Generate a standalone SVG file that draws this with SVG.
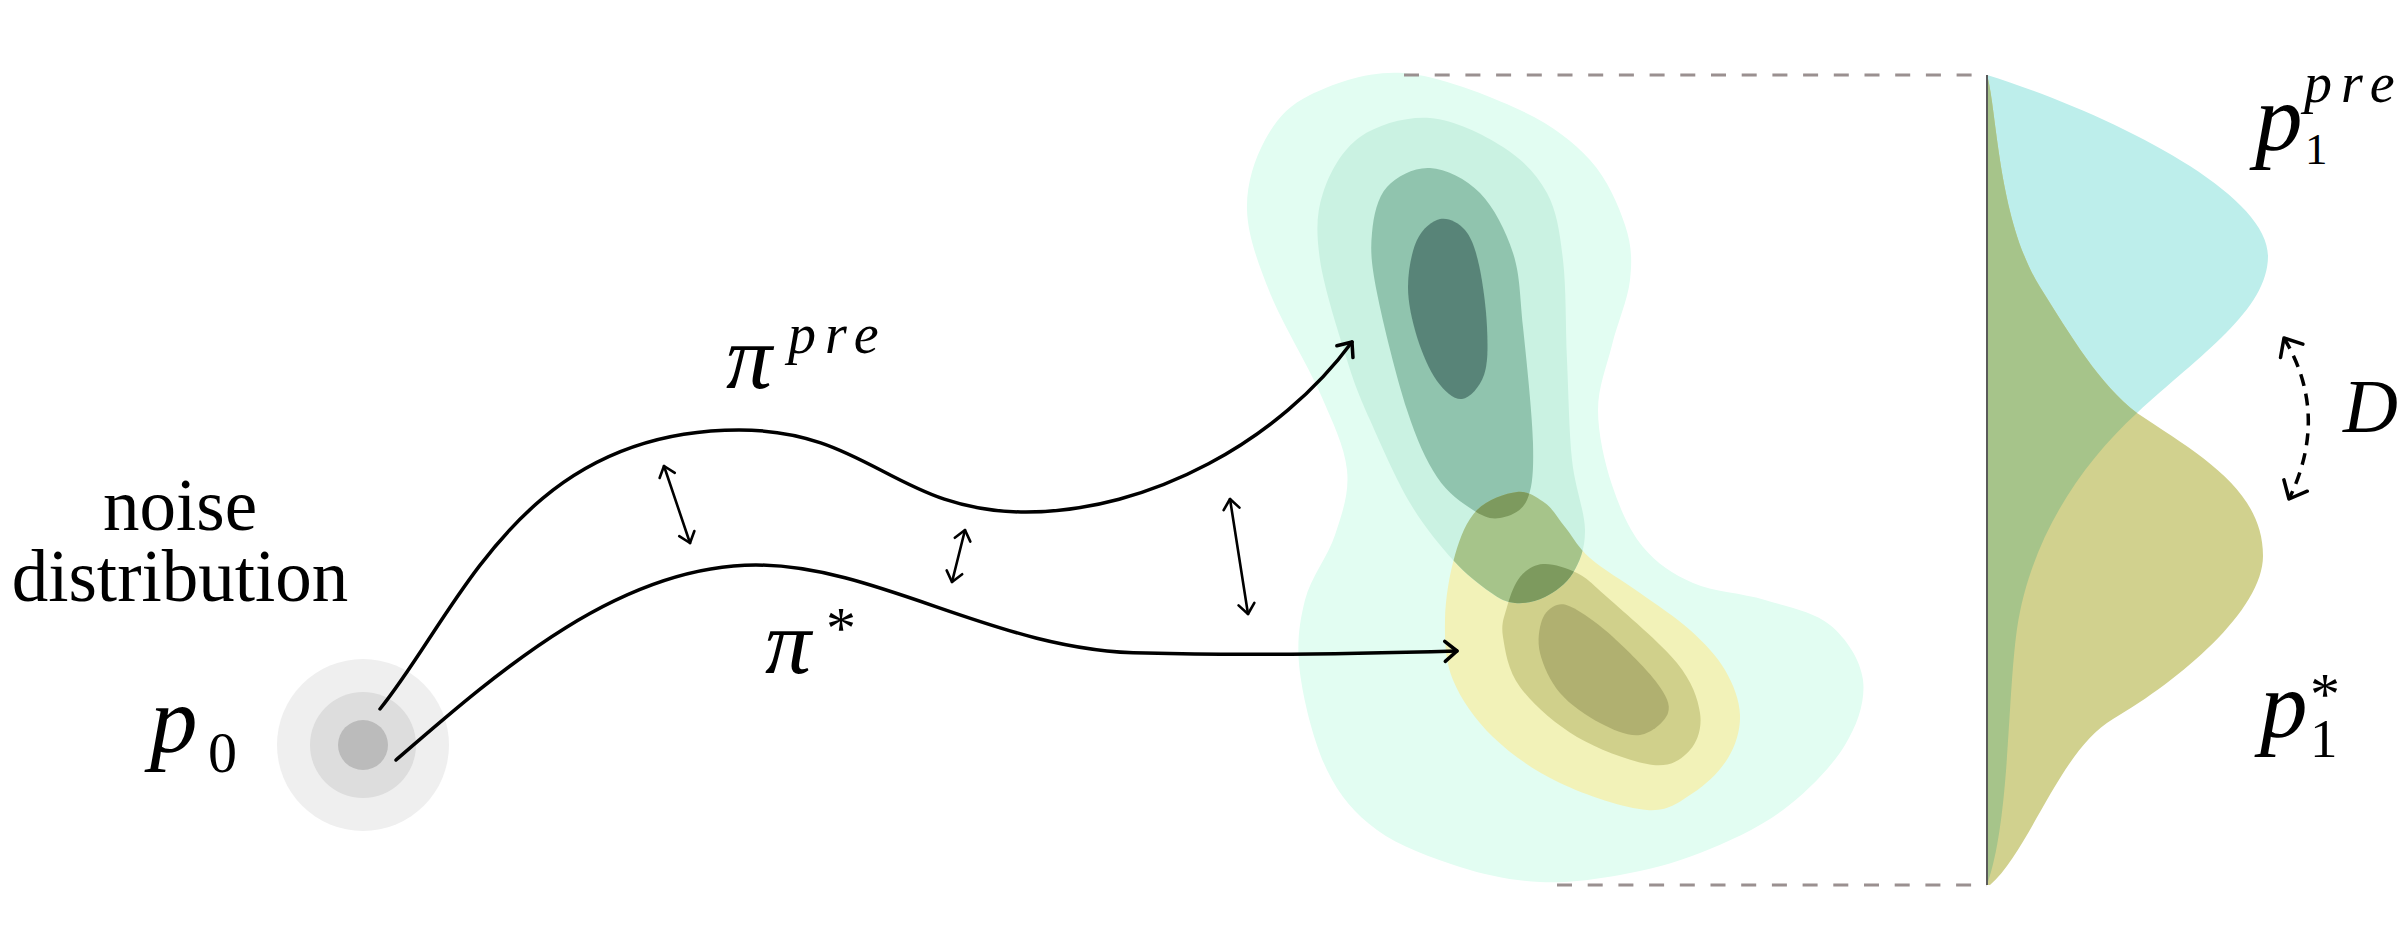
<svg xmlns="http://www.w3.org/2000/svg" width="2400" height="935" viewBox="0 0 2400 935">
<style>
text{font-family:"Liberation Serif","Times New Roman",serif;fill:#000}
.it{font-style:italic}
.curve{fill:none;stroke:#000;stroke-width:3.5;stroke-linecap:round}
.dbl{fill:none;stroke:#000;stroke-width:2.6;stroke-linecap:round}
.guide{fill:none;stroke:#9a9090;stroke-width:3;stroke-dasharray:15 15.7}
.ahp{fill:none;stroke:#000;stroke-linecap:round;stroke-linejoin:round;stroke-dasharray:none}
</style>
<defs>
<marker id="ah" markerUnits="userSpaceOnUse" orient="auto" overflow="visible" markerWidth="30" markerHeight="30">
<path class="ahp" stroke-width="3.5" d="M-12,-10 L0,0 L-12,10"/>
</marker>
<marker id="dh" markerUnits="userSpaceOnUse" orient="auto-start-reverse" overflow="visible" markerWidth="30" markerHeight="30">
<path class="ahp" stroke-width="2.6" d="M-10,-8 L0,0 L-10,8"/>
</marker>
<marker id="Dh" markerUnits="userSpaceOnUse" orient="auto-start-reverse" overflow="visible" markerWidth="40" markerHeight="40">
<path class="ahp" stroke-width="3.5" d="M-15,-13 L0,0 L-15,13"/>
</marker>
<path id="T2" d="M1430,118 C1453.8,119.7 1483.5,134.5 1503,147 C1522.5,159.5 1537,174.2 1547,193 C1557,211.8 1559.7,232.2 1563,260 C1566.3,287.8 1565.5,326.7 1567,360 C1568.5,393.3 1569,431.7 1572,460 C1575,488.3 1584.8,511.2 1585,530 C1585.2,548.8 1579.7,561.8 1573,573 C1566.3,584.2 1554.7,592 1545,597 C1535.3,602 1524.2,603.8 1515,603 C1505.8,602.2 1500.3,599.2 1490,592 C1479.7,584.8 1466.3,574.8 1453,560 C1439.7,545.2 1423.8,526.3 1410,503 C1396.2,479.7 1380.5,443.8 1370,420 C1359.5,396.2 1355.3,386.7 1347,360 C1338.7,333.3 1324,287.8 1320,260 C1316,232.2 1316.3,213.5 1323,193 C1329.7,172.5 1342.2,149.5 1360,137 C1377.8,124.5 1406.2,116.3 1430,118 Z"/>
<path id="T3" d="M1430,168 C1445.5,169 1466.2,178.8 1480,193 C1493.8,207.2 1505.8,230.7 1513,253 C1520.2,275.3 1519.7,295.3 1523,327 C1526.3,358.7 1532.3,414.2 1533,443 C1533.7,471.8 1532.5,487.5 1527,500 C1521.5,512.5 1509,516.3 1500,518 C1491,519.7 1483.5,516.8 1473,510 C1462.5,503.2 1448,493.7 1437,477 C1426,460.3 1417,440.7 1407,410 C1397,379.3 1382.8,322.5 1377,293 C1371.2,263.5 1370.3,250.7 1372,233 C1373.7,215.3 1377.3,197.8 1387,187 C1396.7,176.2 1414.5,167 1430,168 Z"/>
<path id="Y1" d="M1517,492 C1528.3,490.8 1537,497.2 1545,503 C1553,508.8 1557.5,517.8 1565,527 C1572.5,536.2 1577.5,547 1590,558 C1602.5,569 1623.3,581 1640,593 C1656.7,605 1675.8,617.2 1690,630 C1704.2,642.8 1716.7,655.8 1725,670 C1733.3,684.2 1739.5,700.3 1740,715 C1740.5,729.7 1735.8,745 1728,758 C1720.2,771 1706.5,784.3 1693,793 C1679.5,801.7 1669.2,811.7 1647,810 C1624.8,808.3 1585.7,795.2 1560,783 C1534.3,770.8 1510.8,754.2 1493,737 C1475.2,719.8 1461,699.5 1453,680 C1445,660.5 1444.7,640.8 1445,620 C1445.3,599.2 1449.7,573.3 1455,555 C1460.3,536.7 1466.7,520.5 1477,510 C1487.3,499.5 1505.7,493.2 1517,492 Z"/>
<path id="Y2" d="M1543,564 C1552.5,563.3 1566.3,567.5 1577,573 C1587.7,578.5 1590.3,582 1607,597 C1623.7,612 1661.5,643.7 1677,663 C1692.5,682.3 1697.8,698.5 1700,713 C1702.2,727.5 1697.8,741.3 1690,750 C1682.2,758.7 1671.8,767.2 1653,765 C1634.2,762.8 1599.2,750 1577,737 C1554.8,724 1532.3,703.7 1520,687 C1507.7,670.3 1505.2,650.3 1503,637 C1500.8,623.7 1504.2,617 1507,607 C1509.8,597 1514,584.2 1520,577 C1526,569.8 1533.5,564.7 1543,564 Z"/>
<path id="MC" d="M1987,75 C2100,110 2268,190 2268,256 C2268,310 2200,355 2137,413 C2080,465 2030,540 2017,629 C2007,700 2010,820 1987,885 Z"/>
<path id="MY" d="M1987,75 C1997,110 1998,220 2040,287 C2070,335 2100,385 2137,413 C2200,455 2263,490 2263,556 C2263,610 2180,680 2113,719 C2060,750 2030,850 1990,885 L1987,885 Z"/>
<clipPath id="cT2"><use href="#T2"/></clipPath>
<clipPath id="cT3"><use href="#T3"/></clipPath>
<clipPath id="cMC"><use href="#MC"/></clipPath>
</defs>

<g id="noise-source">
<circle cx="363" cy="745" r="86" fill="#efefef"/>
<circle cx="363" cy="745" r="53" fill="#dddddd"/>
<circle cx="363" cy="745" r="25" fill="#bbbbbb"/>
<text x="180" y="530" font-size="73" text-anchor="middle">noise</text>
<text x="180" y="601" font-size="73" text-anchor="middle">distribution</text>
<text y="752"><tspan class="it" x="150" font-size="95">p</tspan><tspan x="208" y="772" font-size="58">0</tspan></text>
</g>

<g id="density-2d">
<path fill="#e2fdf2" d="M1403,73 C1438,75.5 1488.8,95.5 1520,110 C1551.2,124.5 1572.5,140.8 1590,160 C1607.5,179.2 1618.3,205 1625,225 C1631.7,245 1632.2,260 1630,280 C1627.8,300 1617.3,323.3 1612,345 C1606.7,366.7 1598,386.7 1598,410 C1598,433.3 1604.5,462.2 1612,485 C1619.5,507.8 1629.5,530.7 1643,547 C1656.5,563.3 1672.7,574.2 1693,583 C1713.3,591.8 1742.2,593 1765,600 C1787.8,607 1813.7,611.7 1830,625 C1846.3,638.3 1860.5,660 1863,680 C1865.5,700 1858.3,723.3 1845,745 C1831.7,766.7 1807.2,792 1783,810 C1758.8,828 1727.2,842.2 1700,853 C1672.8,863.8 1646.7,870.2 1620,875 C1593.3,879.8 1566.7,883.3 1540,882 C1513.3,880.7 1487.2,875.7 1460,867 C1432.8,858.3 1399.2,846.2 1377,830 C1354.8,813.8 1339.8,796.2 1327,770 C1314.2,743.8 1303.7,701.3 1300,673 C1296.3,644.7 1299.2,623 1305,600 C1310.8,577 1328,556.7 1335,535 C1342,513.3 1349.5,493.7 1347,470 C1344.5,446.3 1332.8,422.5 1320,393 C1307.2,363.5 1282.2,323.5 1270,293 C1257.8,262.5 1247.8,235.5 1247,210 C1246.2,184.5 1254.5,159.2 1265,140 C1275.5,120.8 1287,106.2 1310,95 C1333,83.8 1368,70.5 1403,73 Z"/>
<use href="#Y1" fill="#f2f2b8"/>
<use href="#Y2" fill="#d0d08b"/>
<path fill="#b0b070" d="M1557,605 C1562.8,603.3 1567.7,604.7 1577,610 C1586.3,615.3 1599.7,624.8 1613,637 C1626.3,649.2 1647.8,670.3 1657,683 C1666.2,695.7 1670.8,704.3 1668,713 C1665.2,721.7 1651.3,733.3 1640,735 C1628.7,736.7 1613.3,730 1600,723 C1586.7,716 1570,704.7 1560,693 C1550,681.3 1543,665.2 1540,653 C1537,640.8 1539.2,628 1542,620 C1544.8,612 1551.2,606.7 1557,605 Z"/>
<use href="#T2" fill="#caf2e2"/>
<use href="#T3" fill="#90c4ae"/>
<path fill="#588478" d="M1440,219 C1448,217.3 1458.5,222.3 1465,230 C1471.5,237.7 1475.3,248.8 1479,265 C1482.7,281.2 1486.2,308.7 1487,327 C1487.8,345.3 1488.2,363 1484,375 C1479.8,387 1469.8,398 1462,399 C1454.2,400 1444.5,391.3 1437,381 C1429.5,370.7 1421.8,352.7 1417,337 C1412.2,321.3 1408,303.2 1408,287 C1408,270.8 1411.7,251.3 1417,240 C1422.3,228.7 1432,220.7 1440,219 Z"/>
<use href="#Y1" fill="#a6c48a" clip-path="url(#cT2)"/>
<use href="#Y1" fill="#7d9a5e" clip-path="url(#cT3)"/>
<use href="#Y2" fill="#7d9a5e" clip-path="url(#cT2)"/>
</g>

<g id="guides">
<line class="guide" x1="1404" y1="75" x2="1987" y2="75"/>
<line class="guide" x1="1557" y1="885" x2="1987" y2="885"/>
</g>

<g id="marginals">
<use href="#MC" fill="#bdeeeb"/>
<use href="#MY" fill="#d1d18e"/>
<use href="#MY" fill="#a6c48a" clip-path="url(#cMC)"/>
<line x1="1987" y1="75" x2="1987" y2="885" stroke="#5a5a5a" stroke-width="2"/>
</g>

<g id="labels">
<text><tspan class="it" x="726" y="388" font-size="92">π</tspan><tspan class="it" x="788" y="353" font-size="56" letter-spacing="9">pre</tspan></text>
<text><tspan class="it" x="765" y="673" font-size="92">π</tspan><tspan x="826" y="648" font-size="60">*</tspan></text>
<text><tspan class="it" x="2255" y="150" font-size="95">p</tspan><tspan x="2305" y="164" font-size="45">1</tspan><tspan class="it" x="2304" y="102" font-size="56" letter-spacing="9">pre</tspan></text>
<text><tspan class="it" x="2260" y="737" font-size="95">p</tspan><tspan x="2310" y="757" font-size="55">1</tspan><tspan x="2310" y="714" font-size="60">*</tspan></text>
<text class="it" x="2343" y="432" font-size="76">D</text>
</g>

<g id="connectors">
<path class="curve" marker-end="url(#ah)" d="M380,709 C460,610 520,430 739,430 C870,430 895,512 1026,512 C1150,512 1280,440 1352,342"/>
<path class="curve" marker-end="url(#ah)" d="M396,760 C500,670 620,565 756,565 C880,565 1000,653 1146,653 C1250,656 1350,654 1457,651"/>
<line class="dbl" marker-start="url(#dh)" marker-end="url(#dh)" x1="664" y1="466" x2="690" y2="543"/>
<line class="dbl" marker-start="url(#dh)" marker-end="url(#dh)" x1="965" y1="530" x2="952" y2="582"/>
<line class="dbl" marker-start="url(#dh)" marker-end="url(#dh)" x1="1230" y1="499" x2="1248" y2="614"/>
<path fill="none" stroke="#000" stroke-width="3.5" stroke-dasharray="12 8" marker-start="url(#Dh)" marker-end="url(#Dh)" d="M2284,338 Q2330,415 2289,499"/>
</g>
</svg>
